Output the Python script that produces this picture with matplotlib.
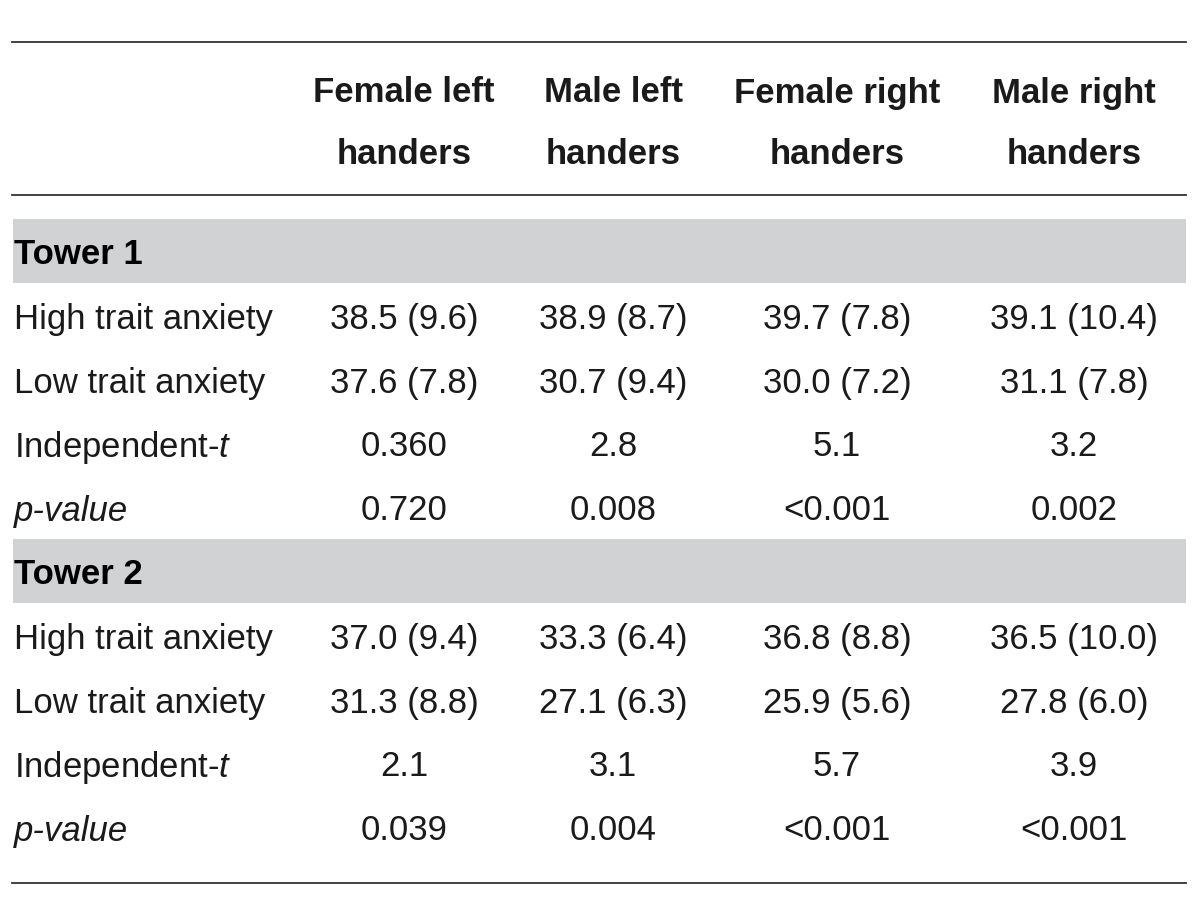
import matplotlib
matplotlib.use("Agg")
import matplotlib.pyplot as plt

columns = ["Female left\nhanders", "Male left\nhanders", "Female right\nhanders", "Male right\nhanders"]
sections = ["Tower 1", "Tower 2"]
row_labels = ["High trait anxiety", "Low trait anxiety", "Independent-$t$", "$p$-value"]
tower1 = [
    ["38.5 (9.6)", "38.9 (8.7)", "39.7 (7.8)", "39.1 (10.4)"],
    ["37.6 (7.8)", "30.7 (9.4)", "30.0 (7.2)", "31.1 (7.8)"],
    ["0.360", "2.8", "5.1", "3.2"],
    ["0.720", "0.008", "<0.001", "0.002"],
]
tower2 = [
    ["37.0 (9.4)", "33.3 (6.4)", "36.8 (8.8)", "36.5 (10.0)"],
    ["31.3 (8.8)", "27.1 (6.3)", "25.9 (5.6)", "27.8 (6.0)"],
    ["2.1", "3.1", "5.7", "3.9"],
    ["0.039", "0.004", "<0.001", "<0.001"],
]

plt.rcParams['font.family'] = ['Liberation Sans', 'DejaVu Sans']
plt.rcParams['mathtext.fontset'] = 'custom'
plt.rcParams['mathtext.it'] = 'Liberation Sans:italic'
plt.rcParams['mathtext.rm'] = 'Liberation Sans'

fig = plt.figure(figsize=(12, 8.97), dpi=100)
ax = fig.add_axes([0, 0, 1, 1])
ax.set_xlim(0, 1200)
ax.set_ylim(897, 0)
ax.axis('off')

txt = '#1a1a1a'
fs = 25
col_x = [404, 613, 837, 1074]
left, right = 12, 1186

ax.plot([left, right], [42, 42], color='#333333', lw=1.3)
ax.plot([left, right], [195, 195], color='#333333', lw=1.3)
ax.plot([left, right], [883, 883], color='#333333', lw=1.3)

for x, c in zip(col_x, columns):
    l1, l2 = c.split("\n")
    ax.text(x, 93, l1, ha='center', va='center', fontsize=fs, fontweight='bold', color=txt)
    ax.text(x, 155, l2, ha='center', va='center', fontsize=fs, fontweight='bold', color=txt)

def label_text(lbl):
    if lbl == "$p$-value":
        return "p-value", 'italic'
    return lbl, 'normal'

band_tops = [219, 539]
for s, (sec, data, top) in enumerate(zip(sections, [tower1, tower2], band_tops)):
    ax.add_patch(plt.Rectangle((13, top), right - 13, 64, color='#d1d2d4', lw=0))
    ax.text(14, top + 35, sec, ha='left', va='center', fontsize=fs, fontweight='bold', color='#000000')
    for r, (lbl, vals) in enumerate(zip(row_labels, data)):
        y = top + 100 + r * 64
        t, style = label_text(lbl)
        ax.text(14, y, t, ha='left', va='center', fontsize=fs, style=style, color=txt)
        for x, v in zip(col_x, vals):
            ax.text(x, y, v, ha='center', va='center', fontsize=fs, color=txt)

fig.savefig("out.png", dpi=100)
